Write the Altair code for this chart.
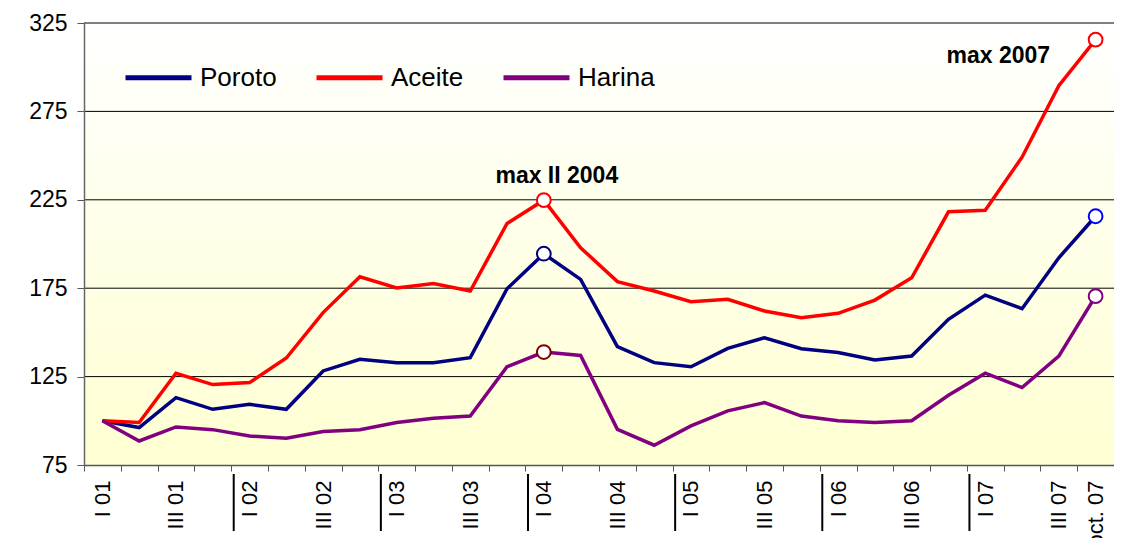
import altair as alt
import pandas as pd

quarters = ["I 01", "II 01", "III 01", "IV 01",
            "I 02", "II 02", "III 02", "IV 02",
            "I 03", "II 03", "III 03", "IV 03",
            "I 04", "II 04", "III 04", "IV 04",
            "I 05", "II 05", "III 05", "IV 05",
            "I 06", "II 06", "III 06", "IV 06",
            "I 07", "II 07", "III 07", "oct. 07"]

poroto = [100, 96.2, 113.1, 106.5, 109.3, 106.5, 128.2, 134.8,
          132.9, 132.9, 135.7, 174.7, 194.5, 180, 142, 132.9,
          130.6, 141, 147, 140.8, 138.6, 134.4, 136.6, 157.4,
          171.1, 163.4, 192.2, 215.7]
aceite = [100, 99, 126.9, 120.5, 121.6, 135.5, 161.2, 181.5,
          175.1, 177.7, 173.4, 211.6, 224.8, 197.9, 178.7, 173.4,
          167.4, 168.7, 162.1, 158.3, 160.8, 168.3, 180.9, 218.2,
          219.1, 249.1, 289.6, 315.6]
harina = [100, 88.6, 96.5, 95, 91.4, 90.1, 93.9, 95,
          99, 101.4, 102.7, 130.6, 138.9, 137, 95.2, 86.2,
          97.1, 105.6, 110.3, 102.7, 100, 99, 100, 114.4,
          126.9, 118.8, 136.6, 170.5]

series_names = ["Poroto", "Aceite", "Harina"]
series_colors = ["#000080", "#FF0000", "#800080"]

marker_series = ["Aceite", "Poroto", "Harina", "Aceite", "Poroto", "Harina"]
marker_quarter = ["I 04", "I 04", "I 04", "oct. 07", "oct. 07", "oct. 07"]
marker_stroke = ["#FF0000", "#000080", "#800000", "#FF0000", "#0000FF", "#800080"]

annot_text = ["max II 2004", "max 2007"]
annot_quarter = ["I 04", "I 07"]
annot_value = [238.3, 306.5]

year_starts = ["I 02", "I 03", "I 04", "I 05", "I 06", "I 07"]
grid_values = [125, 175, 225, 275]
y_ticks = [75, 125, 175, 225, 275, 325]

W, H = 1030, 442
FONT = "Liberation Sans"

rows = []
for name, vals in zip(series_names, [poroto, aceite, harina]):
    for q, v in zip(quarters, vals):
        rows.append({"quarter": q, "series": name, "value": v})
df = pd.DataFrame(rows)
lookup = {(r["series"], r["quarter"]): r["value"] for r in rows}
mdf = pd.DataFrame({
    "quarter": marker_quarter,
    "series": marker_series,
    "mcolor": marker_stroke,
    "value": [lookup[(s, q)] for s, q in zip(marker_series, marker_quarter)],
})
adf = pd.DataFrame({"quarter": annot_quarter, "text": annot_text, "value": annot_value})
ydf = pd.DataFrame({"quarter": year_starts})
gdf = pd.DataFrame({"value": grid_values})
tdf = pd.DataFrame({"value": [325]})

xscale = alt.Scale(type="band", domain=quarters, paddingInner=0, paddingOuter=0)
yscale = alt.Scale(domain=[75, 325], nice=False, zero=False)

xaxis = alt.Axis(
    title=None, tickBand="extent", labelAngle=270, labelAlign="right",
    labelBaseline="middle", labelFontSize=22, labelFont=FONT, labelColor="black",
    labelPadding=9, tickSize=6, tickColor="#555555", domainColor="#555555",
    domainWidth=1.5, grid=False, zindex=1,
    labelExpr="(indexof(datum.label, 'II ') == 0 || indexof(datum.label, 'IV ') == 0) ? '' : datum.label",
)
yaxis = alt.Axis(
    title=None, values=y_ticks, grid=False, labelFontSize=23, labelFont=FONT,
    labelColor="black", labelPadding=10, tickSize=7, tickColor="#555555",
    domainColor="#666666", domainWidth=1.5, zindex=1,
)

base = alt.Chart(df)

bg = alt.Chart(pd.DataFrame({"a": [0]})).mark_rect(
    fill=alt.LinearGradient(
        gradient="linear", x1=0, y1=0, x2=0, y2=1,
        stops=[alt.GradientStop(color="#FFFFFF", offset=0),
               alt.GradientStop(color="#FFFFD2", offset=1)],
    )
).encode(x=alt.value(0), x2=alt.value(W), y=alt.value(0), y2=alt.value(H))

grid = alt.Chart(gdf).mark_rule(color="black", strokeWidth=1).encode(
    y=alt.Y("value:Q", scale=yscale, axis=yaxis),
    x=alt.value(0), x2=alt.value(W),
)
topline = alt.Chart(tdf).mark_rule(color="#808080", strokeWidth=2).encode(
    y=alt.Y("value:Q", scale=yscale),
    x=alt.value(0), x2=alt.value(W),
)

lines = base.mark_line(strokeWidth=3.5).encode(
    x=alt.X("quarter:N", scale=xscale, axis=xaxis, bandPosition=0.5),
    y=alt.Y("value:Q", scale=yscale),
    color=alt.Color(
        "series:N",
        scale=alt.Scale(domain=series_names, range=series_colors),
        sort=series_names,
        legend=alt.Legend(
            title=None, orient="none", legendX=39, legendY=19,
            direction="horizontal", columns=3, symbolType="stroke",
            symbolSize=66 * 66, symbolStrokeWidth=5, labelFontSize=26,
            labelFont=FONT, labelColor="black", labelOffset=6,
            columnPadding=29,
        ),
    ),
    order=alt.Order("idx:Q"),
).transform_calculate(idx="indexof(" + str(quarters) + ", datum.quarter)")

markers = alt.Chart(mdf).mark_point(
    filled=False, fill="white", fillOpacity=1, size=190, strokeWidth=2, opacity=1
).encode(
    x=alt.X("quarter:N", scale=xscale, bandPosition=0.5),
    y=alt.Y("value:Q", scale=yscale),
    stroke=alt.Stroke("mcolor:N", scale=None),
)

annots = alt.Chart(adf).mark_text(
    font=FONT, fontSize=23, fontWeight="bold", color="black",
    align="center", baseline="middle", dx=13,
).encode(
    x=alt.X("quarter:N", scale=xscale, bandPosition=0.5),
    y=alt.Y("value:Q", scale=yscale),
    text="text:N",
)

yearbars = alt.Chart(ydf).mark_rule(color="black", strokeWidth=2).encode(
    x=alt.X("quarter:N", scale=xscale, bandPosition=0.07),
    y=alt.value(H + 9), y2=alt.value(H + 66),
)

chart = alt.layer(bg, grid, topline, lines, markers, annots, yearbars).properties(
    width=W, height=H,
    autosize=alt.AutoSizeParams(type="none"),
    padding={"left": 76, "top": 15, "right": 0, "bottom": 73},
).configure_view(stroke=None).configure(font=FONT, background="white")

chart.save("out.html", embed_options={"renderer": "svg", "actions": False})
